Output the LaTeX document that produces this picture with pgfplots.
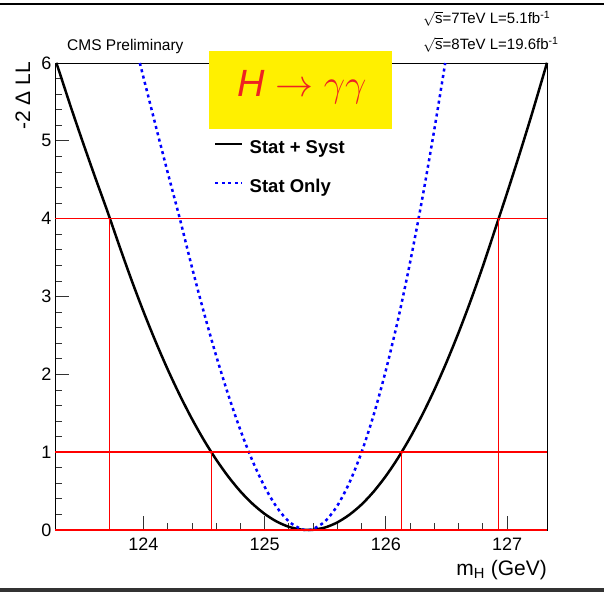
\documentclass[border=0pt]{standalone}
\usepackage{graphicx}
\usepackage{pgfplots}
\pgfplotsset{compat=1.18}
\usepackage{fontspec}
\setmainfont{Liberation Sans}
\definecolor{boxyellow}{RGB}{255,240,0}
\definecolor{hred}{RGB}{238,34,34}
\begin{document}
\begin{tikzpicture}[x=1pt,y=1pt]
\path[use as bounding box] (0,0) rectangle (604,592);
\fill[black!80] (0,0) rectangle (604,4);
\draw[black, line width=1.2pt] (0,588) -- (604,588);
\begin{axis}[
  at={(55pt,62pt)}, anchor=south west,
  width=492pt, height=467pt, scale only axis,
  xmin=123.27, xmax=127.33, ymin=0, ymax=6,
  xtick={124,125,126,127}, ytick={0,1,2,3,4,5,6},
  minor x tick num=4, minor y tick num=4,
  tick pos=left, tick align=inside,
  major tick length=14pt, minor tick length=7pt,
  every tick/.style={black!80, line width=0.8pt},
  axis line style={line width=1pt},
  ticklabel style={font=\fontsize{18}{20}\selectfont},
  xticklabel style={yshift=-4pt},
  /pgf/number format/assume math mode=true,
  clip=false,
  legend cell align=left,
  legend image code/.code={\draw[#1] (0pt,0.33em) -- (27pt,0.33em);},
  legend style={draw=none, fill=none, inner sep=0pt,
    at={(axis description cs:0.3232,0.835)}, anchor=north west,
    font=\fontsize{18.5}{20}\selectfont\bfseries,
    nodes={inner sep=0pt}, column sep=6pt, row sep=24pt},
]
\addplot[black, line width=2.5pt, smooth] coordinates {
(123.28,6.002) (123.3,5.915) (123.4,5.438) (123.5,4.981) (123.6,4.537)
(123.7,4.105) (123.8,3.655) (123.9,3.218) (124.0,2.807) (124.1,2.422)
(124.2,2.063) (124.3,1.732) (124.4,1.428) (124.5,1.152) (124.6,0.905)
(124.7,0.686) (124.8,0.496) (124.9,0.337) (125.0,0.207) (125.1,0.108)
(125.2,0.041) (125.3,0.006) (125.36,0) (125.4,0.003) (125.5,0.033)
(125.6,0.098) (125.7,0.197) (125.8,0.328) (125.9,0.494) (126.0,0.693)
(126.1,0.924) (126.2,1.186) (126.3,1.478) (126.4,1.800) (126.5,2.153)
(126.6,2.535) (126.7,2.946) (126.8,3.386) (126.9,3.855) (127.0,4.328)
(127.1,4.814) (127.2,5.318) (127.3,5.843) (127.33,6.003)
};
\addlegendentry{Stat + Syst}
\addplot[blue, line width=2.5pt, smooth, dash pattern=on 3pt off 3.5pt] coordinates {
(123.97,6.0) (124.0,5.816) (124.1,5.199) (124.2,4.593) (124.3,4.0)
(124.4,3.376) (124.5,2.787) (124.6,2.238) (124.7,1.736) (124.8,1.283)
(124.9,0.888) (125.0,0.555) (125.1,0.293) (125.2,0.109) (125.3,0.013)
(125.35,0) (125.4,0.013) (125.5,0.113) (125.6,0.313) (125.7,0.610)
(125.8,1.0) (125.9,1.481) (126.0,2.050) (126.1,2.700) (126.2,3.437)
(126.3,4.252) (126.4,5.143) (126.49,6.0)
};
\addlegendentry{Stat Only}
\addplot[red, line width=1.6pt, forget plot] coordinates {(123.27,0) (127.33,0)};
\addplot[red, line width=1.6pt, forget plot] coordinates {(123.27,1) (127.33,1)};
\addplot[red, line width=1.6pt, forget plot] coordinates {(123.27,4) (127.33,4)};
\addplot[red, line width=1.6pt, forget plot] coordinates {(123.72,0) (123.72,4)};
\addplot[red, line width=1.6pt, forget plot] coordinates {(124.56,0) (124.56,1)};
\addplot[red, line width=1.6pt, forget plot] coordinates {(126.13,0) (126.13,1)};
\addplot[red, line width=1.6pt, forget plot] coordinates {(126.93,0) (126.93,4)};
\end{axis}
% yellow box with title
\fill[boxyellow] (209,463) rectangle (392,541);
\node[text=hred, inner sep=0pt] at (302,505) {\scalebox{1.83}{\fontsize{20.74}{22}\selectfont\itshape H\/\;\upshape$\rightarrow\gamma\gamma$}};
% texts
\node[anchor=base west, inner sep=0pt, font=\fontsize{15.5}{17}\selectfont] at (67,541) {CMS Preliminary};
\node[anchor=base west, inner sep=0pt, font=\fontsize{15}{17}\selectfont] at (423,568) {$\sqrt{\mbox{s}}$=7TeV L=5.1fb\textsuperscript{-1}};
\node[anchor=base west, inner sep=0pt, font=\fontsize{15}{17}\selectfont] at (423,542) {$\sqrt{\mbox{s}}$=8TeV L=19.6fb\textsuperscript{-1}};
\node[rotate=90, anchor=base east, inner sep=0pt, font=\fontsize{21}{24}\selectfont] at (30,530) {-2 Δ LL};
\node[anchor=base east, inner sep=0pt, font=\fontsize{21}{24}\selectfont] at (547,17) {m\textsubscript{H} (GeV)};
\end{tikzpicture}
\end{document}
